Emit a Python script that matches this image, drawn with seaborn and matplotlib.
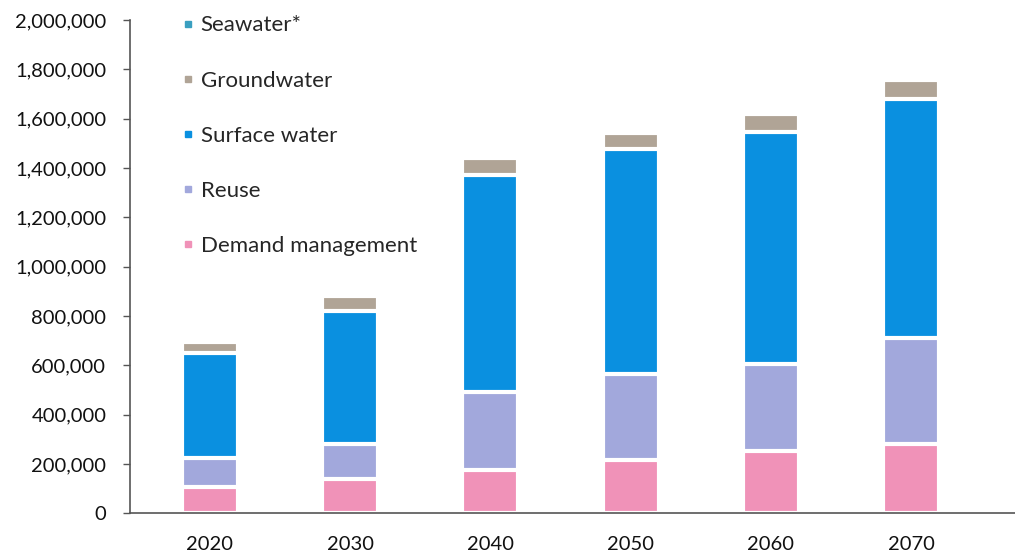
import seaborn as sns
import pandas as pd
import matplotlib
matplotlib.use("Agg")
import matplotlib.pyplot as plt
from matplotlib.lines import Line2D
from matplotlib.ticker import FuncFormatter

years = ["2020", "2030", "2040", "2050", "2060", "2070"]
demand_management = [107000, 141000, 176000, 216000, 251000, 282000]
reuse = [117000, 141000, 318000, 350000, 354000, 430000]
surface_water = [426000, 539000, 877000, 913000, 941000, 970000]
groundwater = [45000, 60000, 69000, 65000, 73000, 77000]
seawater = [0, 0, 0, 0, 0, 0]

series = ["Seawater*", "Groundwater", "Surface water", "Reuse", "Demand management"]
colors = {
    "Seawater*": "#3a9fc0",
    "Groundwater": "#b0a496",
    "Surface water": "#0a90e0",
    "Reuse": "#a2a8dc",
    "Demand management": "#f092b8",
}
y_ticks = list(range(0, 2000001, 200000))

# stack from the bottom up, then draw the tallest layer first
bottom_up = {
    "Demand management": demand_management,
    "Reuse": reuse,
    "Surface water": surface_water,
    "Groundwater": groundwater,
    "Seawater*": seawater,
}
rows = []
running = [0] * len(years)
for name, vals in bottom_up.items():
    running = [r + v for r, v in zip(running, vals)]
    for y, c, v in zip(years, running, vals):
        rows.append([y, name, c, v])
df = pd.DataFrame(rows, columns=["Year", "Source", "Top", "Value"])

sns.set_style("white")
plt.rcParams["font.family"] = ["Lato", "DejaVu Sans"]

fig = plt.figure(figsize=(10.15, 5.58), dpi=100)
ax = fig.add_axes([0.128, 0.08, 0.872, 0.884])

for name in series:
    part = df[(df.Source == name) & (df.Value > 0)]
    if part.empty:
        continue
    sns.barplot(data=part, x="Year", y="Top", order=years, color=colors[name],
                width=0.4, edgecolor="white", linewidth=3, saturation=1, ax=ax)

ax.set_ylim(0, 2000000)
ax.set_xlim(-0.57, 5.74)
ax.set_yticks(y_ticks)
ax.yaxis.set_major_formatter(FuncFormatter(lambda v, p: f"{int(v):,}"))
ax.set(xlabel=None, ylabel=None)

for s in ["top", "right"]:
    ax.spines[s].set_visible(False)
for s in ["left", "bottom"]:
    ax.spines[s].set_color("#555555")
    ax.spines[s].set_linewidth(1.2)

ax.tick_params(axis="y", left=True, length=5, width=1, color="#555555",
               pad=12, labelsize=14.5, labelcolor="#111111")
ax.tick_params(axis="x", bottom=False, pad=13, labelsize=14.5, labelcolor="#111111")

handles = [Line2D([], [], marker="s", linestyle="none", markersize=5,
                  markerfacecolor=colors[n], markeredgecolor=colors[n]) for n in series]
ax.legend(handles, series, loc="upper left", bbox_to_anchor=(0.036, 1.05),
          frameon=False, fontsize=16, labelspacing=1.58, handlelength=0.6,
          handletextpad=0.25)

fig.savefig("out.png", dpi=100)
